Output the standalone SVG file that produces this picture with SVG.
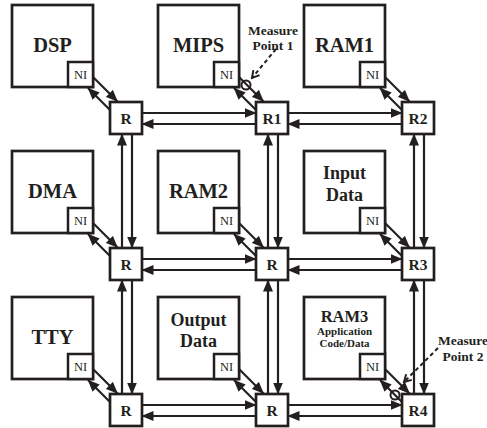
<svg xmlns="http://www.w3.org/2000/svg" width="487" height="428" viewBox="0 0 487 428">
<style>
.box{fill:#fff;stroke:#231f20;stroke-width:2.7}
.ni{fill:#fff;stroke:#231f20;stroke-width:2.5}
.rt{fill:#fff;stroke:#231f20;stroke-width:2.7}
text{font-family:"Liberation Serif","Times New Roman","DejaVu Serif",serif;fill:#231f20;text-anchor:middle}
.lbl{font-size:20.5px;font-weight:bold}
.lbl2{font-size:18px;font-weight:bold}
.sm{font-size:11px;font-weight:bold}
.nit{font-size:12.5px}
.rtt{font-size:15.5px;font-weight:bold}
.mt{font-size:13.5px;font-weight:bold}
.ln{fill:none;stroke:#231f20;stroke-width:2.2;marker-end:url(#ah)}
.dash{fill:none;stroke:#231f20;stroke-width:2;stroke-dasharray:4 3;marker-end:url(#oh)}
.mc{fill:none;stroke:#231f20;stroke-width:2}
</style>
<defs>
<marker id="ah" markerUnits="userSpaceOnUse" markerWidth="12" markerHeight="10" viewBox="0 0 12 10" refX="11.5" refY="5" orient="auto">
<path d="M0,0 L12,5 L0,10 z" fill="#231f20"/>
</marker>
<marker id="oh" markerUnits="userSpaceOnUse" markerWidth="10" markerHeight="10" viewBox="0 0 10 10" refX="8" refY="5" orient="auto">
<path d="M1,1 L8,5 L1,9" fill="none" stroke="#231f20" stroke-width="2"/>
</marker>
</defs>
<rect width="487" height="428" fill="#fff"/>

<g id="dsp"><rect class="box" x="12" y="5" width="81" height="82"/><text class="lbl" x="52.5" y="52">DSP</text><rect class="ni" x="68" y="62" width="25" height="25"/><text class="nit" x="80.5" y="78.5">NI</text></g>
<g id="mips"><rect class="box" x="158" y="5" width="81" height="82"/><text class="lbl" x="198.5" y="52">MIPS</text><rect class="ni" x="214" y="62" width="25" height="25"/><text class="nit" x="226.5" y="78.5">NI</text></g>
<g id="ram1"><rect class="box" x="304" y="5" width="81" height="82"/><text class="lbl" x="344.5" y="52">RAM1</text><rect class="ni" x="360" y="62" width="25" height="25"/><text class="nit" x="372.5" y="78.5">NI</text></g>

<g id="dma"><rect class="box" x="12" y="151" width="81" height="82"/><text class="lbl" x="52.5" y="198">DMA</text><rect class="ni" x="68" y="208" width="25" height="25"/><text class="nit" x="80.5" y="224.5">NI</text></g>
<g id="ram2"><rect class="box" x="158" y="151" width="81" height="82"/><text class="lbl" x="198.5" y="198">RAM2</text><rect class="ni" x="214" y="208" width="25" height="25"/><text class="nit" x="226.5" y="224.5">NI</text></g>
<g id="input"><rect class="box" x="304" y="151" width="81" height="82"/><text class="lbl2" x="344.5" y="179">Input</text><text class="lbl2" x="344.5" y="201">Data</text><rect class="ni" x="360" y="208" width="25" height="25"/><text class="nit" x="372.5" y="224.5">NI</text></g>

<g id="tty"><rect class="box" x="12" y="297" width="81" height="82"/><text class="lbl" x="52.5" y="344">TTY</text><rect class="ni" x="68" y="354" width="25" height="25"/><text class="nit" x="80.5" y="370.5">NI</text></g>
<g id="output"><rect class="box" x="158" y="297" width="81" height="82"/><text class="lbl2" x="198.5" y="326">Output</text><text class="lbl2" x="198.5" y="347">Data</text><rect class="ni" x="214" y="354" width="25" height="25"/><text class="nit" x="226.5" y="370.5">NI</text></g>
<g id="ram3"><rect class="box" x="304" y="297" width="81" height="82"/><text x="344.5" y="322" style="font-size:16.5px;font-weight:bold">RAM3</text><text class="sm" x="344.5" y="335">Application</text><text class="sm" x="344.5" y="347">Code/Data</text><rect class="ni" x="360" y="354" width="25" height="25"/><text class="nit" x="372.5" y="370.5">NI</text></g>

<g id="r00"><rect class="rt" x="110" y="102" width="32" height="32"/><text class="rtt" x="126" y="123.5">R</text></g>
<g id="r1"><rect class="rt" x="256" y="102" width="32" height="32"/><text class="rtt" x="272" y="123.5">R1</text></g>
<g id="r2"><rect class="rt" x="402" y="102" width="32" height="32"/><text class="rtt" x="418" y="123.5">R2</text></g>
<g id="r01"><rect class="rt" x="110" y="248" width="32" height="32"/><text class="rtt" x="126" y="269.5">R</text></g>
<g id="r11"><rect class="rt" x="256" y="248" width="32" height="32"/><text class="rtt" x="272" y="269.5">R</text></g>
<g id="r3"><rect class="rt" x="402" y="248" width="32" height="32"/><text class="rtt" x="418" y="269.5">R3</text></g>
<g id="r02"><rect class="rt" x="110" y="394" width="32" height="32"/><text class="rtt" x="126" y="415.5">R</text></g>
<g id="r12"><rect class="rt" x="256" y="394" width="32" height="32"/><text class="rtt" x="272" y="415.5">R</text></g>
<g id="r4"><rect class="rt" x="402" y="394" width="32" height="32"/><text class="rtt" x="418" y="415.5">R4</text></g>

<g id="connectors">
<path class="ln" d="M93,77 L117.5,101.5"/><path class="ln" d="M239,77 L263.5,101.5"/><path class="ln" d="M385,77 L409.5,101.5"/>
<path class="ln" d="M93,223 L117.5,247.5"/><path class="ln" d="M239,223 L263.5,247.5"/><path class="ln" d="M385,223 L409.5,247.5"/>
<path class="ln" d="M93,369 L117.5,393.5"/><path class="ln" d="M239,369 L263.5,393.5"/><path class="ln" d="M385,369 L409.5,393.5"/>
<path class="ln" d="M110,110 L88,88"/><path class="ln" d="M256,110 L234,88"/><path class="ln" d="M402,110 L380,88"/>
<path class="ln" d="M110,256 L88,234"/><path class="ln" d="M256,256 L234,234"/><path class="ln" d="M402,256 L380,234"/>
<path class="ln" d="M110,402 L88,380"/><path class="ln" d="M256,402 L234,380"/><path class="ln" d="M402,402 L380,380"/>
<path class="ln" d="M142,113 H256"/><path class="ln" d="M256,124 H142"/><path class="ln" d="M288,113 H402"/><path class="ln" d="M402,124 H288"/>
<path class="ln" d="M142,259 H256"/><path class="ln" d="M256,270 H142"/><path class="ln" d="M288,259 H402"/><path class="ln" d="M402,270 H288"/>
<path class="ln" d="M142,405 H256"/><path class="ln" d="M256,416 H142"/><path class="ln" d="M288,405 H402"/><path class="ln" d="M402,416 H288"/>
<path class="ln" d="M122,248 V134"/><path class="ln" d="M132,134 V248"/><path class="ln" d="M122,394 V280"/><path class="ln" d="M132,280 V394"/>
<path class="ln" d="M268,248 V134"/><path class="ln" d="M278,134 V248"/><path class="ln" d="M268,394 V280"/><path class="ln" d="M278,280 V394"/>
<path class="ln" d="M414,248 V134"/><path class="ln" d="M424,134 V248"/><path class="ln" d="M414,394 V280"/><path class="ln" d="M424,280 V394"/>
</g>

<g id="measure1">
<text class="mt" x="273" y="35">Measure</text><text class="mt" x="273" y="50">Point 1</text>
<path class="dash" d="M276,49 L252,78"/>
<circle class="mc" cx="246" cy="85" r="4.5"/>
</g>
<g id="measure2">
<text class="mt" x="463" y="345">Measure</text><text class="mt" x="463" y="361">Point 2</text>
<path class="dash" d="M438,348 L404,382"/>
<circle class="mc" cx="395" cy="395" r="4.5"/>
</g>
</svg>
